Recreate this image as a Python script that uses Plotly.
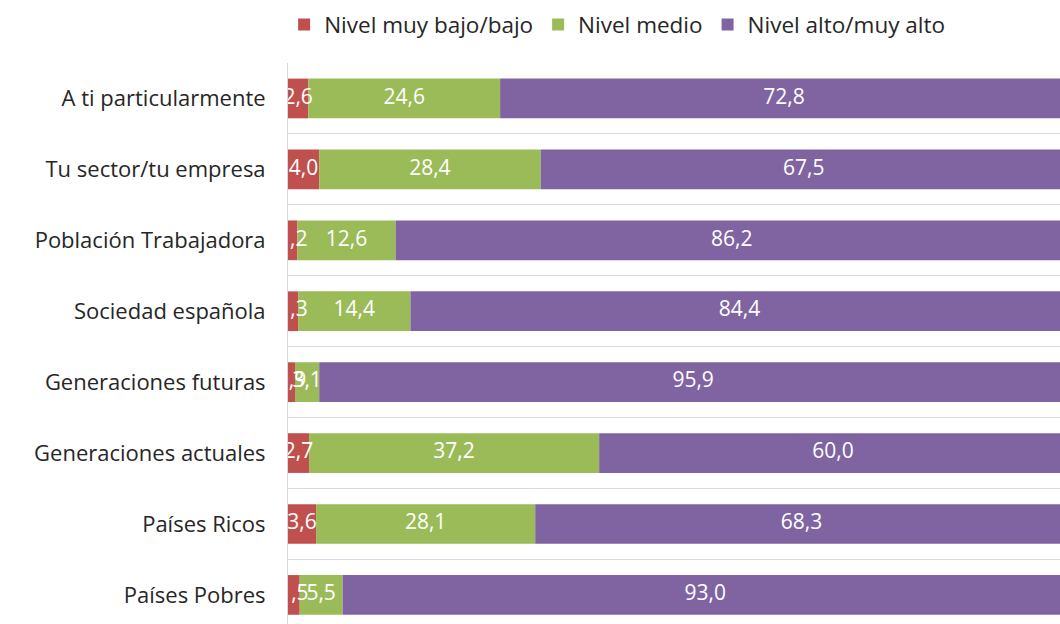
import plotly.graph_objects as go

categories = ["A ti particularmente", "Tu sector/tu empresa", "Población Trabajadora",
              "Sociedad española", "Generaciones futuras", "Generaciones actuales",
              "Países Ricos", "Países Pobres"]
series_names = ["Nivel muy bajo/bajo", "Nivel medio", "Nivel alto/muy alto"]
bajo = [2.6, 4.0, 1.2, 1.3, 0.9, 2.7, 3.6, 1.5]
medio = [24.6, 28.4, 12.6, 14.4, 3.1, 37.2, 28.1, 5.5]
alto = [72.8, 67.5, 86.2, 84.4, 95.9, 60.0, 68.3, 93.0]
colors = ["#C0504D", "#9BBB59", "#8064A2"]

FONT = "Open Sans"
ypos = list(range(len(categories)))
fig = go.Figure()
left = [0.0] * len(categories)
for name, vals, col in zip(series_names, [bajo, medio, alto], colors):
    fig.add_trace(go.Bar(y=ypos, x=vals, base=left, orientation="h", name=name,
                         marker=dict(color=col, line=dict(width=0)), width=0.56,
                         hoverinfo="x+name"))
    fig.add_trace(go.Scatter(y=ypos, x=[l + v / 2 for l, v in zip(left, vals)],
                             mode="text", text=[f"{v:.1f}".replace(".", ",") for v in vals],
                             textfont=dict(color="white", size=21, family=FONT),
                             showlegend=False, hoverinfo="skip", cliponaxis=True))
    left = [l + v for l, v in zip(left, vals)]

fig.update_layout(
    width=1060, height=624,
    margin=dict(l=288, r=0, t=63, b=0, autoexpand=False),
    plot_bgcolor="white", paper_bgcolor="white",
    barmode="overlay",
    separators=",.",
    font=dict(family=FONT, size=22, color="#262626"),
    legend=dict(orientation="h", x=-0.005, xanchor="left", y=1.068, yanchor="middle",
                font=dict(size=22.5, color="#262626"), traceorder="normal",
                itemwidth=30),
    xaxis=dict(range=[0, 99], showgrid=False, zeroline=False, showticklabels=False,
               ticks="", fixedrange=True, automargin=False),
    yaxis=dict(range=[7.41, -0.5], tickvals=ypos, ticktext=categories, showgrid=False,
               zeroline=False, showline=True, linecolor="#D9D9D9", linewidth=1,
               ticks="", ticklabelstandoff=17, automargin=False,
               minor=dict(tickvals=[i - 0.5 for i in ypos] + [len(ypos) - 0.5],
                          showgrid=True, gridcolor="#D9D9D9", gridwidth=1, ticks="")),
)
fig.write_html("out.html", config={"displayModeBar": False},
               post_script="document.body.style.margin='0';document.body.style.overflow='hidden';")
